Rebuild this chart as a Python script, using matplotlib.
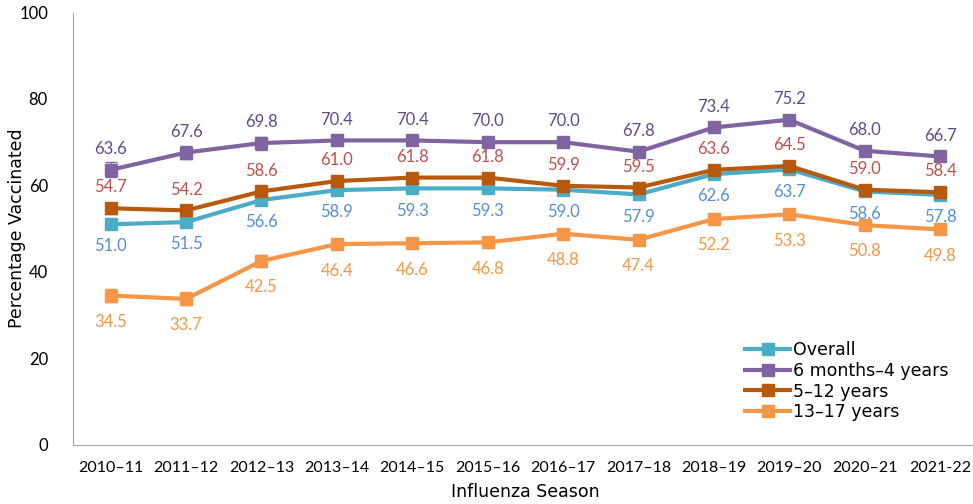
import matplotlib.pyplot as plt
from matplotlib.lines import Line2D
import numpy as np

plt.rcParams['font.family'] = ['Lato', 'DejaVu Sans']

seasons = ['2010\u201311', '2011\u201312', '2012\u201313', '2013\u201314', '2014\u201315',
           '2015\u201316', '2016\u201317', '2017\u201318', '2018\u201319', '2019\u201320',
           '2020\u201321', '2021-22']

overall = [51.0, 51.5, 56.6, 58.9, 59.3, 59.3, 59.0, 57.9, 62.6, 63.7, 58.6, 57.8]
infant = [63.6, 67.6, 69.8, 70.4, 70.4, 70.0, 70.0, 67.8, 73.4, 75.2, 68.0, 66.7]
child = [54.7, 54.2, 58.6, 61.0, 61.8, 61.8, 59.9, 59.5, 63.6, 64.5, 59.0, 58.4]
teen = [34.5, 33.7, 42.5, 46.4, 46.6, 46.8, 48.8, 47.4, 52.2, 53.3, 50.8, 49.8]

overall_err = [0.5, 0.5, 0.5, 0.5, 0.5, 0.5, 0.5, 0.5, 0.5, 0.5, 0.5, 0.5]
infant_err = [1.7, 1.5, 1.5, 1.0, 1.0, 1.0, 1.0, 1.0, 1.0, 1.0, 1.0, 1.0]
child_err = [1.3, 1.2, 1.0, 0.8, 0.8, 0.8, 0.8, 0.8, 0.8, 0.8, 0.8, 0.8]
teen_err = [1.4, 1.5, 1.3, 1.2, 1.2, 1.2, 1.2, 1.0, 1.0, 1.0, 1.0, 1.0]

x = np.arange(len(seasons))

fig, ax = plt.subplots(figsize=(9.73, 5.04), dpi=100)
fig.subplots_adjust(left=0.075, right=1.005, top=0.975, bottom=0.118)

# (values, errors, line colour, label colour, offset in points, legend name)
series = [
    (overall, overall_err, '#4bacc6', '#558ed5', -16, 'Overall'),
    (infant, infant_err, '#8064a2', '#5f4b8b', 15, '6 months\u20134 years'),
    (child, child_err, '#b85a0e', '#c0504d', 15, '5\u201312 years'),
    (teen, teen_err, '#f79646', '#f79646', -19, '13\u201317 years'),
]

handles = []
for vals, err, col, lcol, off, name in series:
    ax.errorbar(x, vals, yerr=err, color=col, lw=3, marker='s', ms=8,
                ecolor=col, elinewidth=1, capsize=4)
    handles.append(Line2D([], [], color=col, lw=3, marker='s', ms=8, label=name))
    for xi, v in zip(x, vals):
        ax.annotate(f'{v:.1f}', (xi, v), xytext=(0, off), textcoords='offset points',
                    ha='center', va='center', fontsize=12, color=lcol)

ax.set_xlim(-0.5, 11.5)
ax.set_ylim(0, 100)
ax.set_yticks([0, 20, 40, 60, 80, 100])
ax.set_xticks(x)
ax.set_xticklabels(seasons)
ax.tick_params(axis='y', length=0, labelsize=12, pad=18)
ax.tick_params(axis='x', length=0, labelsize=11.5, pad=12)

for s in ['top', 'right']:
    ax.spines[s].set_visible(False)
for s in ['left', 'bottom']:
    ax.spines[s].set_color('#a6a6a6')

ax.set_ylabel('Percentage Vaccinated', fontsize=12.5, family='DejaVu Sans')
ax.yaxis.set_label_coords(-0.052, 0.5)
ax.set_xlabel('Influenza Season', fontsize=12.5, family='DejaVu Sans')
ax.xaxis.set_label_coords(0.5, -0.09)

ax.legend(handles=handles, loc='upper left', bbox_to_anchor=(0.735, 0.255),
          frameon=False, prop={'family': 'DejaVu Sans', 'size': 12.5},
          handlelength=2.6, handletextpad=0.15, labelspacing=0.15,
          borderaxespad=0)

fig.savefig('out.png', dpi=100)
